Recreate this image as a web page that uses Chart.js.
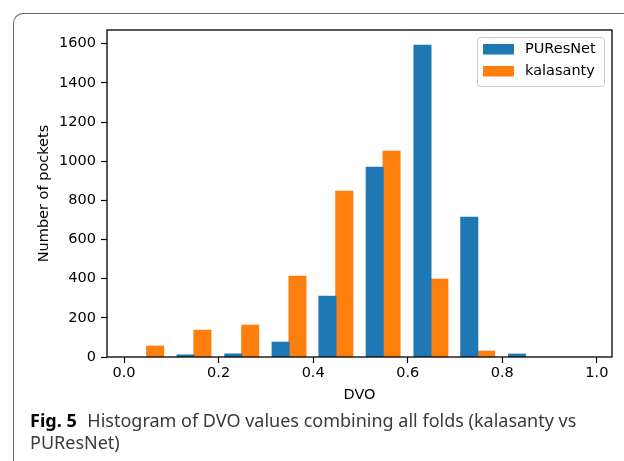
<!DOCTYPE html>
<html>
<head>
<meta charset="utf-8">
<script src="https://cdn.jsdelivr.net/npm/chart.js@4"></script>
<style>
  html, body { margin: 0; padding: 0; background: #fff; }
  #wrap { position: relative; width: 624px; height: 461px; overflow: hidden; }
  #frame {
    position: absolute; left: 13px; top: 13px; width: 700px; height: 500px;
    border-top: 1px solid #666; border-left: 1px solid #666;
    border-top-left-radius: 10px;
  }
  #chart { position: absolute; left: 0; top: 0; }
  #caption {
    position: absolute; left: 30px; top: 409px; width: 590px;
    font-family: "Noto Sans", sans-serif; font-size: 18px; line-height: 22px;
    color: #3a3a3a;
  }
  #caption b { color: #000; margin-right: 6px; }
</style>
</head>
<body>
<div id="wrap">
  <div id="frame"></div>
  <canvas id="chart" width="624" height="410"></canvas>
  <div id="caption"><b>Fig. 5</b> Histogram of DVO values combining all folds (kalasanty vs PUResNet)</div>
</div>
<script>
// bin centres of the DVO histogram
const binCenters = [0.048, 0.148, 0.249, 0.349, 0.448, 0.548, 0.649, 0.748, 0.849, 0.949];
// pocket counts per bin
const puresnetCounts = [0, 10, 15, 75, 310, 968, 1591, 713, 14, 0];
const kalasantyCounts = [55, 136, 162, 412, 846, 1050, 397, 29, 0, 0];
const seriesNames = ['PUResNet', 'kalasanty'];
const xTicks = [0.0, 0.2, 0.4, 0.6, 0.8, 1.0];
const yTicks = [0, 200, 400, 600, 800, 1000, 1200, 1400, 1600];

const tickFont = { family: 'DejaVu Sans', size: 14.5 };

// matplotlib style box around the plot area plus legend in the upper right
const frameAndLegend = {
    id: 'frameAndLegend',
    afterDraw(chart) {
        const { ctx, chartArea: a } = chart;
        ctx.save();
        ctx.strokeStyle = '#000';
        ctx.lineWidth = 1.3;
        ctx.strokeRect(a.left, a.top, a.right - a.left, a.bottom - a.top);

        // legend box
        const bx = 477, by = 37, bw = 127, bh = 49;
        ctx.beginPath();
        ctx.roundRect(bx + 0.5, by + 0.5, bw, bh, 3);
        ctx.fillStyle = 'rgba(255,255,255,0.8)';
        ctx.fill();
        ctx.strokeStyle = '#cccccc';
        ctx.lineWidth = 1;
        ctx.stroke();

        ctx.font = '14.5px "DejaVu Sans"';
        ctx.textBaseline = 'middle';
        ctx.textAlign = 'left';
        chart.data.datasets.forEach((ds, i) => {
            const y = by + 7 + i * 22;
            ctx.fillStyle = ds.backgroundColor;
            ctx.fillRect(bx + 6, y, 31, 10.5);
            ctx.fillStyle = '#000';
            ctx.fillText(ds.label, bx + 48, y + 5.5);
        });
        ctx.restore();
    }
};

new Chart(document.getElementById('chart'), {
    type: 'bar',
    data: {
        datasets: [
            {
                label: seriesNames[0],
                data: binCenters.map((x, i) => ({ x: x, y: puresnetCounts[i] })),
                backgroundColor: '#1f77b4',
            },
            {
                label: seriesNames[1],
                data: binCenters.map((x, i) => ({ x: x, y: kalasantyCounts[i] })),
                backgroundColor: '#ff7f0e',
            },
        ],
    },
    options: {
        responsive: false,
        animation: false,
        events: [],
        barPercentage: 1,
        categoryPercentage: 0.72,
        // slight overlap so neighbouring bars touch, but empty bins stay invisible
        inflateAmount: (c) => (c.raw && c.raw.y > 0 ? 0.6 : 0),
        layout: { padding: { top: 30, right: 12, left: 0, bottom: 5 } },
        plugins: {
            legend: { display: false },
            tooltip: { enabled: false },
        },
        scales: {
            x: {
                type: 'linear',
                min: -0.036,
                max: 1.032,
                offset: false,
                grid: { offset: false, drawOnChartArea: false, drawTicks: true, tickLength: 6, tickColor: '#000', tickWidth: 1.2 },
                border: { display: false },
                afterBuildTicks: (scale) => { scale.ticks = xTicks.map(v => ({ value: v })); },
                afterFit: (scale) => { scale.height = 48; },
                ticks: {
                    color: '#000', font: tickFont, padding: 2, maxRotation: 0,
                    callback: (v) => Number(v).toFixed(1),
                },
                title: {
                    display: true, text: 'DVO', color: '#000',
                    font: tickFont, padding: { top: 0, bottom: 1.3 },
                },
            },
            y: {
                min: 0,
                max: 1670,
                grid: { drawOnChartArea: false, drawTicks: true, tickLength: 6, tickColor: '#000', tickWidth: 1.2 },
                border: { display: false },
                afterBuildTicks: (scale) => { scale.ticks = yTicks.map(v => ({ value: v })); },
                afterFit: (scale) => { scale.width = 107; },
                ticks: {
                    color: '#000', font: tickFont, padding: 5,
                    callback: (v) => String(v),
                },
                title: {
                    display: true, text: 'Number of pockets', color: '#000',
                    font: tickFont, padding: { top: 35.5, bottom: 0 },
                },
            },
        },
    },
    plugins: [frameAndLegend],
});
</script>
</body>
</html>
